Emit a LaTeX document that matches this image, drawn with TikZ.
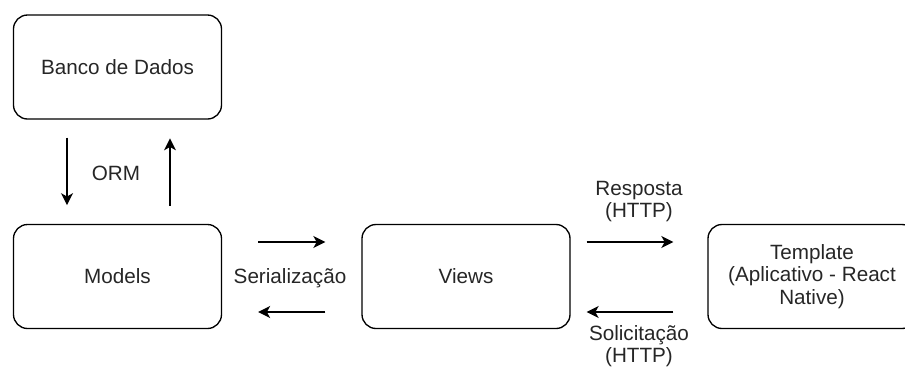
\documentclass[tikz,border=0pt]{standalone}
\usepackage{fontspec}
\setmainfont{Liberation Sans}
\usetikzlibrary{calc,positioning,arrows.meta}

\begin{document}
\begin{tikzpicture}[x=0.75pt,y=-0.75pt,
  font=\fontsize{15.5}{17}\selectfont,
  box/.style={draw,rounded corners=10.5pt,line width=1pt,
    minimum width=156pt,minimum height=78pt,align=center,text=black!85},
  lbl/.style={align=center,text=black!85,inner sep=0pt},
  arr/.style={-{Stealth[length=9pt,width=9pt,inset=2.5pt]},line width=1pt}]

\useasboundingbox (0,0) rectangle (905,369);

\node[box] (banco) at (117.5,67) {Banco de Dados};
\node[box] (models) at (117.5,276.5) {Models};
\node[box] (views) at (466,276.5) {Views};
\node[box] (template) at (812,276.5) {Template\\(Aplicativo - React\\Native)};

\node[lbl] (orm) at (116,173) {ORM};
\node[lbl] (ser) at (290,278) {Serialização};
\node[lbl] (resp) at (639,201.5) {Resposta\\(HTTP)};
\node[lbl] (solic) at (639,346) {Solicitação\\(HTTP)};

\draw[arr,shorten <=13.5pt,shorten >=14pt] ($(banco.south)+(-50.5,0)$) -- ($(models.north)+(-50.5,0)$);
\draw[arr,shorten <=13.5pt,shorten >=14pt] ($(models.north)+(52.5,0)$) -- ($(banco.south)+(52.5,0)$);
\draw[arr,shorten <=27pt,shorten >=27pt] ($(models.east)+(0,-34.5)$) -- ($(views.west)+(0,-34.5)$);
\draw[arr,shorten <=27pt,shorten >=27pt] ($(views.west)+(0,35.5)$) -- ($(models.east)+(0,35.5)$);
\draw[arr,shorten <=12pt,shorten >=25.5pt] ($(views.east)+(0,-34.5)$) -- ($(template.west)+(0,-34.5)$);
\draw[arr,shorten <=25.5pt,shorten >=12pt] ($(template.west)+(0,35.5)$) -- ($(views.east)+(0,35.5)$);
\end{tikzpicture}
\end{document}
